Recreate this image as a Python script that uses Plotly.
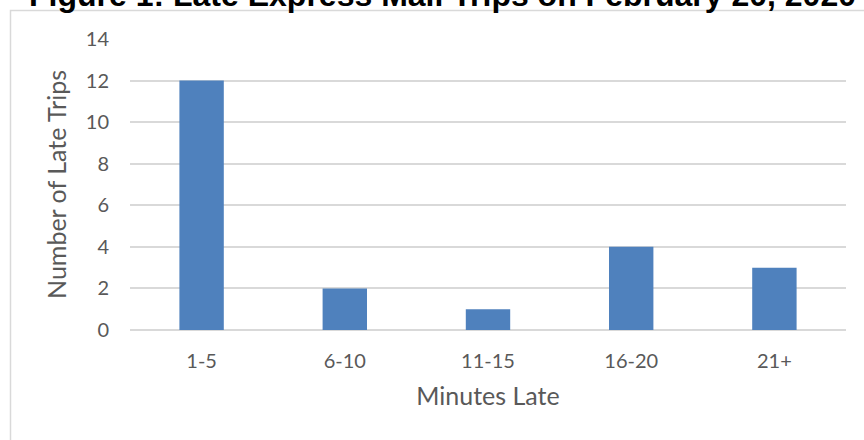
import plotly.graph_objects as go

# Late trip counts by minutes-late bucket
categories = ["1-5", "6-10", "11-15", "16-20", "21+"]
late_trips = [12, 2, 1, 4, 3]
y_ticks = [0, 2, 4, 6, 8, 10, 12, 14]

title_text = "Figure 1: Late Express Mail Trips on February 20, 2020"

W, H = 864, 440
L, R, T, B = 130, 18, 39, 110
pw, ph = W - L - R, H - T - B


def px_x(x):
    return (x - L) / pw


def px_y(y):
    return (H - B - y) / ph


fig = go.Figure(
    go.Bar(
        x=categories,
        y=late_trips,
        marker=dict(color="#4f81bd", line=dict(color="#4f81bd", width=0)),
        width=0.31,
    )
)

grey = "#595959"
font_family = "Lato, 'Open Sans', sans-serif"

fig.update_layout(
    width=W,
    height=H,
    margin=dict(l=L, r=R, t=T, b=B),
    paper_bgcolor="white",
    plot_bgcolor="white",
    showlegend=False,
    font=dict(family=font_family, color=grey, size=20),
    xaxis=dict(
        title=dict(text="Minutes Late", font=dict(size=25, color=grey), standoff=16),
        showgrid=False,
        showline=False,
        ticks="",
        ticklabelstandoff=17,
        tickfont=dict(size=20, color=grey),
    ),
    yaxis=dict(
        title=dict(text="Number of Late Trips", font=dict(size=25, color=grey), standoff=12),
        range=[0, 14],
        tickvals=y_ticks,
        showgrid=True,
        gridcolor="#d9d9d9",
        gridwidth=1.5,
        zeroline=True,
        zerolinecolor="#d9d9d9",
        zerolinewidth=1.5,
        showline=False,
        ticks="",
        ticklabelstandoff=20,
        tickfont=dict(size=20, color=grey),
    ),
    shapes=[
        dict(
            type="rect",
            xref="paper",
            yref="paper",
            x0=px_x(10.5),
            x1=px_x(880),
            y0=px_y(460),
            y1=px_y(10.5),
            line=dict(color="#d9d9d9", width=1.5),
            fillcolor="rgba(0,0,0,0)",
            layer="below",
        )
    ],
    annotations=[
        dict(
            text="<b>" + title_text + "</b>",
            xref="paper",
            yref="paper",
            x=px_x(442.5),
            y=px_y(15.5),
            xanchor="center",
            yanchor="bottom",
            showarrow=False,
            font=dict(family="Liberation Sans, Arial, sans-serif", size=32, color="black"),
        )
    ],
)

fig.write_html("out.html")
